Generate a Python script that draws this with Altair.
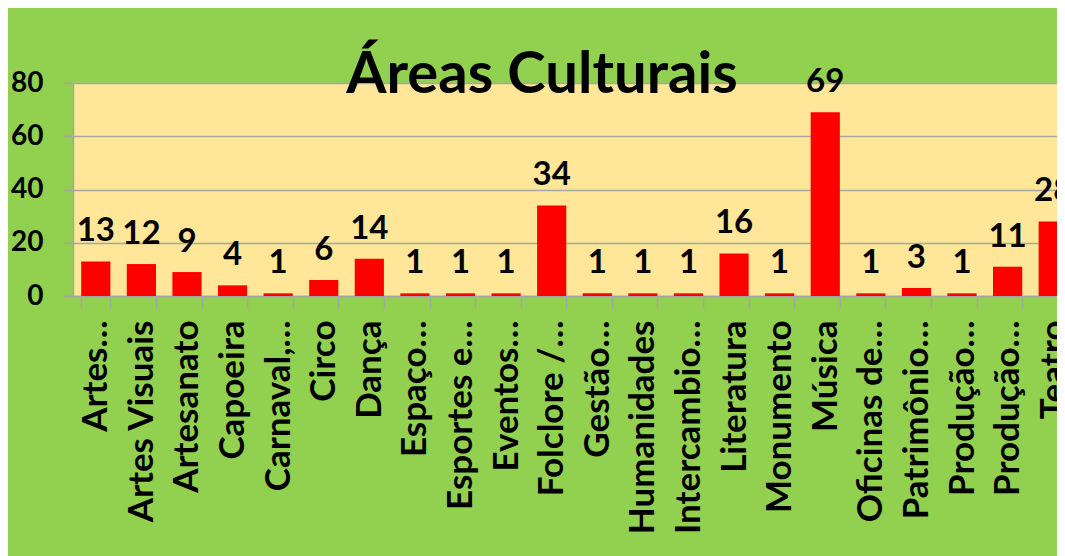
import json
import altair as alt
import pandas as pd

categories = ["Artes…", "Artes Visuais", "Artesanato", "Capoeira", "Carnaval,…", "Circo",
              "Dança", "Espaço…", "Esportes e…", "Eventos…", "Folclore /…", "Gestão…",
              "Humanidades", "Intercambio…", "Literatura", "Monumento", "Música",
              "Oficinas de…", "Patrimônio…", "Produção…", "Produção…", "Teatro"]
values = [13, 12, 9, 4, 1, 6, 14, 1, 1, 1, 34, 1, 1, 1, 16, 1, 69, 1, 3, 1, 11, 28]
title_text = ["Áreas Culturais"]
y_ticks = [0, 20, 40, 60, 80]

df = pd.DataFrame({"idx": list(range(len(categories))), "cat": categories, "value": values})
label_expr = json.dumps(categories, ensure_ascii=False) + "[datum.value]"

FONT = "Lato"
GRAY = "#A6A6A6"

x = alt.X("idx:O", title=None,
          scale=alt.Scale(paddingInner=0.36, paddingOuter=0.18, range=[0, 1003]),
          axis=alt.Axis(labelExpr=label_expr, labelAngle=-90, labelFont=FONT,
                        labelFontWeight="bold", labelFontSize=35, labelColor="black",
                        labelPadding=12, tickSize=12, tickBand="extent", tickColor=GRAY,
                        tickWidth=1.5, domainColor=GRAY, domainWidth=1.5, grid=False,
                        labelOverlap=False, labelLimit=400))
y = alt.Y("value:Q", title=None,
          scale=alt.Scale(domain=[0, 80], nice=False),
          axis=alt.Axis(values=y_ticks, labelFont=FONT, labelFontWeight="bold",
                        labelFontSize=28, labelColor="black", labelPadding=21,
                        tickSize=9, tickColor=GRAY, tickWidth=1.5, domainColor=GRAY,
                        domainWidth=1.5, gridColor=GRAY, gridWidth=1.5))

bars = alt.Chart(df).mark_bar(color="#FF0000").encode(x=x, y=y)
labels = alt.Chart(df).mark_text(font=FONT, fontWeight="bold", fontSize=33,
                                 baseline="alphabetic", dy=-20, color="black").encode(
    x="idx:O", y="value:Q", text="value:Q")
title = alt.Chart(pd.DataFrame({"t": title_text})).mark_text(
    font=FONT, fontWeight="bold", fontSize=58, baseline="alphabetic", align="center",
    color="black").encode(x=alt.value(469), y=alt.value(10), text="t:N")

chart = alt.layer(bars, labels, title).properties(
    width=984, height=213,
    autosize=alt.AutoSizeParams(type="none"),
    padding={"left": 65, "top": 75, "right": 0, "bottom": 260},
    background="#92D050",
).configure_view(fill="#FFE699", stroke=None)

chart.save("out.html", embed_options={"renderer": "svg", "actions": False})
